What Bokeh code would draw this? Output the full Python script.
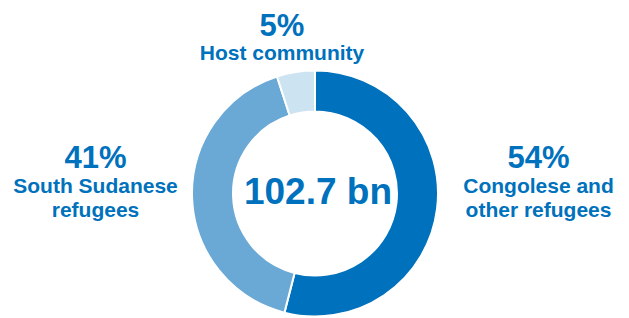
import math
from bokeh.plotting import figure
from bokeh.models import Range1d, ColumnDataSource
from bokeh.core.properties import value
from bokeh.embed import file_html
from bokeh.resources import INLINE

# ---- data ----
categories = ["Congolese and\nother refugees", "South Sudanese\nrefugees", "Host community"]
shares = [54, 41, 5]
colors = ["#0071BC", "#6AA8D6", "#CCE3F2"]
total_label = "102.7 bn"

W, H = 629, 318
TEXT_COLOR = "#0071BC"
FONT = "Liberation Sans"

p = figure(width=W, height=H, output_backend="svg", toolbar_location=None,
           x_range=Range1d(0, W), y_range=Range1d(0, H), min_border=0)
p.axis.visible = False
p.grid.visible = False
p.outline_line_color = None
p.background_fill_color = "white"
p.border_fill_color = "white"

# reference pixel coords -> data coords
def dx(x):
    return x
def dy(y):
    return H - y

# ---- donut ----
tot = float(sum(shares))
starts, ends = [], []
a = math.pi / 2
for s in shares:
    starts.append(a)
    a = a - s / tot * 2 * math.pi
    ends.append(a)

cx, cy = dx(314.5), dy(193)
src = ColumnDataSource(dict(start=starts, end=ends, color=colors))
p.annular_wedge(x=cx, y=cy, inner_radius=82, outer_radius=123,
                start_angle="start", end_angle="end", direction="clock",
                fill_color="color", line_color="white", line_width=2, source=src)

def label(x, baseline, txt, size):
    # place by visual cap centre (baseline - 0.36 em)
    p.text(x=[dx(x)], y=[dy(baseline - 0.36 * size)], text=[txt], text_align="center",
           text_baseline="middle", text_font=value(FONT), text_font_style="bold",
           text_font_size=f"{size}px", text_color=TEXT_COLOR)

# ---- labels ----
label_pos = [  # (center x, pct baseline y, first line baseline y) in reference px
    (538, 168, 193),
    (95, 168, 193),
    (281.5, 36, 60),
]
for cat, s, (lx, py, ly) in zip(categories, shares, label_pos):
    label(lx, py, f"{s}%", 31)
    for i, line in enumerate(cat.split("\n")):
        label(lx, ly + 24 * i, line, 21)

label(317.5, 204, total_label, 37)

open("out.html", "w").write(file_html(p, INLINE))
